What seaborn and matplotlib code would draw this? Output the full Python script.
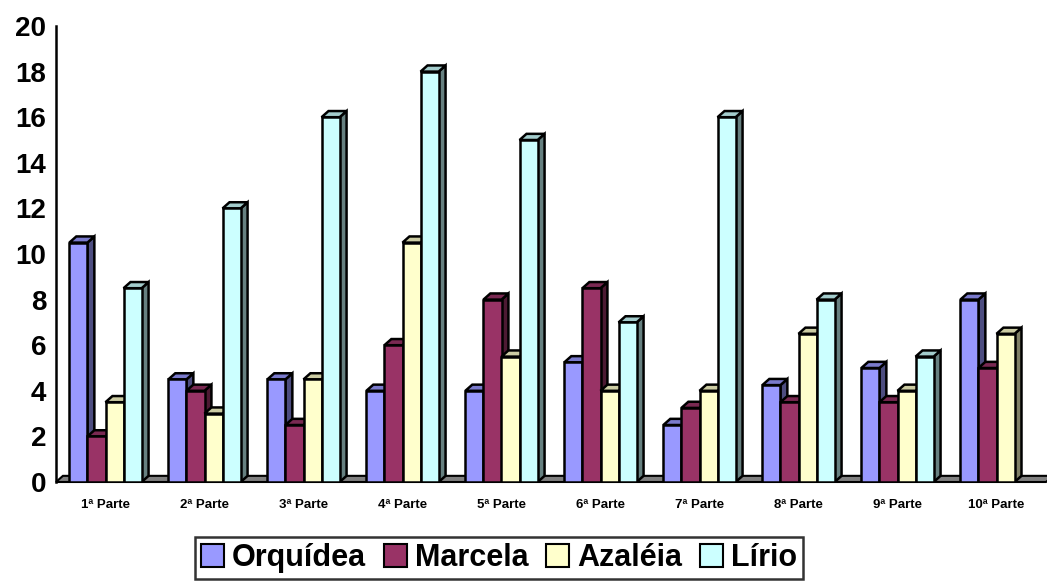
import numpy as np
import pandas as pd
import seaborn as sns
import matplotlib.pyplot as plt
from matplotlib.patches import Polygon, Patch

partes = ["1ª Parte", "2ª Parte", "3ª Parte", "4ª Parte", "5ª Parte",
          "6ª Parte", "7ª Parte", "8ª Parte", "9ª Parte", "10ª Parte"]
orquidea = [10.5, 4.5, 4.5, 4, 4, 5.25, 2.5, 4.25, 5, 8]
marcela = [2, 4, 2.5, 6, 8, 8.5, 3.25, 3.5, 3.5, 5]
azaleia = [3.5, 3, 4.5, 10.5, 5.5, 4, 4, 6.5, 4, 6.5]
lirio = [8.5, 12, 16, 18, 15, 7, 16, 8, 5.5, 0]
series = ["Orquídea", "Marcela", "Azaléia", "Lírio"]
colors = {"Orquídea": "#9999FF", "Marcela": "#993366",
          "Azaléia": "#FFFFCC", "Lírio": "#CCFFFF"}

df = pd.DataFrame({"parte": partes * 4,
                   "serie": np.repeat(series, len(partes)),
                   "valor": orquidea + marcela + azaleia + lirio})

sns.set_theme(style="white")
plt.rcParams['font.family'] = ['Liberation Sans', 'DejaVu Sans']
plt.rcParams['text.color'] = 'black'
plt.rcParams['xtick.color'] = 'black'
plt.rcParams['ytick.color'] = 'black'

fig = plt.figure(figsize=(10.47, 5.84), dpi=100)
ax = fig.add_axes([56 / 1047, 102 / 584, 990 / 1047, 456 / 584])

sns.barplot(data=df, x="parte", y="valor", hue="serie", palette=colors,
            hue_order=series, order=partes, width=0.73, dodge=True,
            edgecolor="black", linewidth=1.8, saturation=1, legend=False, ax=ax)

dx, dy = 0.07, 0.27


def shade(c, f):
    rgb = np.array(plt.matplotlib.colors.to_rgb(c))
    return tuple(rgb * f)


# floor slab
ax.add_patch(Polygon([(-0.5, 0), (9.5, 0), (9.5 + dx, dy), (-0.5 + dx, dy)],
                     closed=True, facecolor="#808080", edgecolor="black",
                     linewidth=1.5, zorder=1, clip_on=False))

bars = sorted([p for p in ax.patches if not isinstance(p, Polygon)], key=lambda b: b.get_x())
z = 2
for b in bars:
    h = b.get_height()
    if h <= 0:
        b.set_visible(False)
        continue
    x0, w = b.get_x(), b.get_width()
    fc = b.get_facecolor()
    side = Polygon([(x0 + w, 0), (x0 + w + dx, dy), (x0 + w + dx, h + dy), (x0 + w, h)],
                   closed=True, facecolor=shade(fc, 0.5), edgecolor="black", linewidth=1.8)
    top = Polygon([(x0, h), (x0 + dx, h + dy), (x0 + w + dx, h + dy), (x0 + w, h)],
                  closed=True, facecolor=shade(fc, 0.8), edgecolor="black", linewidth=1.8)
    side.set_zorder(z)
    top.set_zorder(z)
    ax.add_patch(side)
    ax.add_patch(top)
    b.set_zorder(z + 0.5)
    z += 1

ax.set_xlim(-0.5, 9.5)
ax.set_ylim(0, 20)
ax.set_yticks(range(0, 21, 2))
ax.set_yticklabels([str(v) for v in range(0, 21, 2)], fontsize=20, fontweight="bold")
ax.set_xticks(range(10))
ax.set_xticklabels(partes, fontsize=9.5, fontweight="bold")
ax.set_xticks(np.arange(-0.5, 10, 1), minor=True)
ax.tick_params(axis="x", which="major", length=0, pad=12)
ax.tick_params(axis="x", which="minor", length=5, width=1.5, direction="out", color="black")
ax.tick_params(axis="y", length=5, width=1.5, direction="out", color="black", pad=2)
ax.set_xlabel("")
ax.set_ylabel("")
for s in ["top", "right", "bottom"]:
    ax.spines[s].set_visible(False)
ax.spines["left"].set_color("black")
ax.spines["left"].set_linewidth(1.8)

handles = [Patch(facecolor=colors[s], edgecolor="black", linewidth=1.5) for s in series]
leg = fig.legend(handles, series, loc="center", bbox_to_anchor=(499 / 1047, 1 - 558 / 584),
                 ncol=4, frameon=True, prop={"size": 22, "weight": "bold"},
                 handlelength=0.75, handleheight=0.75, handletextpad=0.25, columnspacing=0.6,
                 fancybox=False, borderpad=0.2)
leg.get_frame().set_edgecolor("black")
leg.get_frame().set_linewidth(1.8)

fig.savefig("out.png", dpi=100)
